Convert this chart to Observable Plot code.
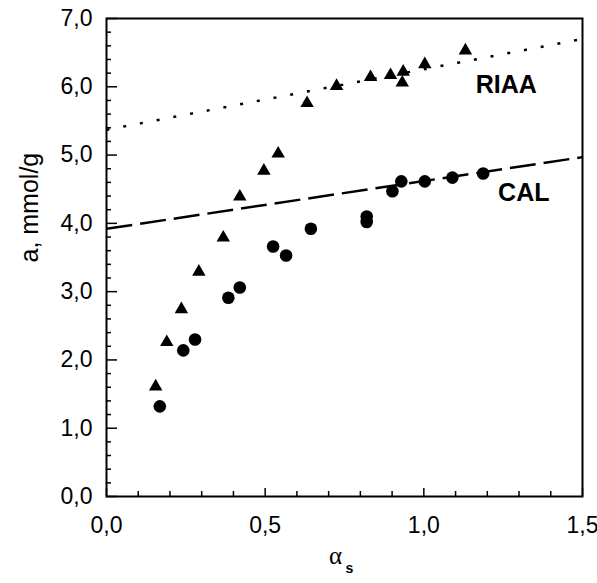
<!DOCTYPE html>
<html><head><meta charset="utf-8">
<script src="https://cdn.jsdelivr.net/npm/d3@7"></script>
<script src="https://cdn.jsdelivr.net/npm/@observablehq/plot@0.6"></script>
<style>html,body{margin:0;padding:0;background:#fff}</style>
</head><body><div id="chart"></div>
<script>
// RIAA (triangles)
const riaaX = [0.155, 0.190, 0.236, 0.291, 0.368, 0.420, 0.496, 0.541, 0.632, 0.725, 0.832, 0.895, 0.935, 0.932, 1.003, 1.131];
const riaaY = [1.61, 2.26, 2.74, 3.29, 3.79, 4.39, 4.77, 5.02, 5.76, 6.01, 6.14, 6.17, 6.22, 6.06, 6.33, 6.53];
// CAL (circles)
const calX = [0.168, 0.242, 0.279, 0.384, 0.420, 0.525, 0.566, 0.644, 0.820, 0.820, 0.901, 0.929, 1.003, 1.090, 1.187];
const calY = [1.32, 2.14, 2.30, 2.91, 3.06, 3.66, 3.53, 3.92, 4.02, 4.10, 4.47, 4.615, 4.615, 4.67, 4.73];
// fitted lines
const riaaFitX = [0, 1.5];
const riaaFitY = [5.37, 6.70];
const calFitX = [0, 1.5];
const calFitY = [3.92, 4.97];
// series labels
const seriesNames = ["RIAA", "CAL"];
const seriesLabelX = [1.26, 1.315];
const seriesLabelY = [6.03, 4.45];
// ticks
const xTicks = [0, 0.5, 1.0, 1.5];
const xMinor = [0.1, 0.2, 0.3, 0.4, 0.6, 0.7, 0.8, 0.9, 1.1, 1.2, 1.3, 1.4];
const yTicks = [0, 1, 2, 3, 4, 5, 6, 7];
const yMinor = [0.2,0.4,0.6,0.8,1.2,1.4,1.6,1.8,2.2,2.4,2.6,2.8,3.2,3.4,3.6,3.8,4.2,4.4,4.6,4.8,5.2,5.4,5.6,5.8,6.2,6.4,6.6,6.8];
const xLabel = "α";
const xLabelSub = "s";
const yLabel = "a, mmol/g";

const fmt = d => d.toFixed(1).replace(".", ",");
const riaa = riaaX.map((x, i) => ({x, y: riaaY[i]}));
const cal = calX.map((x, i) => ({x, y: calY[i]}));
const riaaFit = riaaFitX.map((x, i) => ({x, y: riaaFitY[i]}));
const calFit = calFitX.map((x, i) => ({x, y: calFitY[i]}));
const labels = seriesNames.map((t, i) => ({t, x: seriesLabelX[i], y: seriesLabelY[i]}));

const W = 597, H = 583, mL = 106, mR = 15, mT = 18, mB = 87;
const pw = W - mL - mR, ph = H - mT - mB;

const chart = Plot.plot({
  width: W, height: H,
  marginLeft: mL, marginRight: mR, marginTop: mT, marginBottom: mB,
  style: {fontFamily: "'Liberation Sans', Arial, sans-serif", fontSize: "23px", color: "#000", background: "#fff"},
  x: {domain: [0, 1.5], ticks: xTicks, tickFormat: fmt, tickSize: 0, tickPadding: 20, label: null},
  y: {domain: [0, 7], ticks: yTicks, tickFormat: fmt, tickSize: 0, tickPadding: 14, label: null},
  marks: [
    Plot.tickY(yMinor, {y: d => d, insetRight: pw - 5, stroke: "#000", strokeWidth: 1.5}),
    Plot.tickY(yTicks, {y: d => d, insetRight: pw - 11, stroke: "#000", strokeWidth: 1.5}),
    Plot.tickX(xMinor, {x: d => d, insetTop: ph - 5, stroke: "#000", strokeWidth: 1.5}),
    Plot.tickX(xTicks, {x: d => d, insetTop: ph - 8, stroke: "#000", strokeWidth: 1.5}),
    Plot.line(riaaFit, {x: "x", y: "y", stroke: "#000", strokeWidth: 2.5, strokeDasharray: "3,14", strokeLinecap: "butt"}),
    Plot.line(calFit, {x: "x", y: "y", stroke: "#000", strokeWidth: 2.5, strokeDasharray: "26,8", strokeLinecap: "butt"}),
    Plot.dot(riaa, {x: "x", y: "y", symbol: "triangle", r: 5, fill: "#000", stroke: "none"}),
    Plot.dot(cal, {x: "x", y: "y", symbol: "circle", r: 6.3, fill: "#000", stroke: "none"}),
    Plot.text(labels, {x: "x", y: "y", text: "t", fontWeight: "bold", fontSize: 25, fill: "#000"}),
    Plot.text([yLabel], {frameAnchor: "left", dx: -77, dy: 5, rotate: -90, fontSize: 25, fill: "#000"}),
    Plot.text([xLabel], {frameAnchor: "bottom", dx: -9, dy: 67, fontSize: 25, fontFamily: "'Liberation Serif', serif", fill: "#000"}),
    Plot.text([xLabelSub], {frameAnchor: "bottom", dx: 5, dy: 76, fontSize: 14, fontWeight: "bold", fill: "#000"}),
    Plot.frame({stroke: "#000", strokeWidth: 2})
  ]
});
document.getElementById("chart").appendChild(chart);
</script>
</body></html>
